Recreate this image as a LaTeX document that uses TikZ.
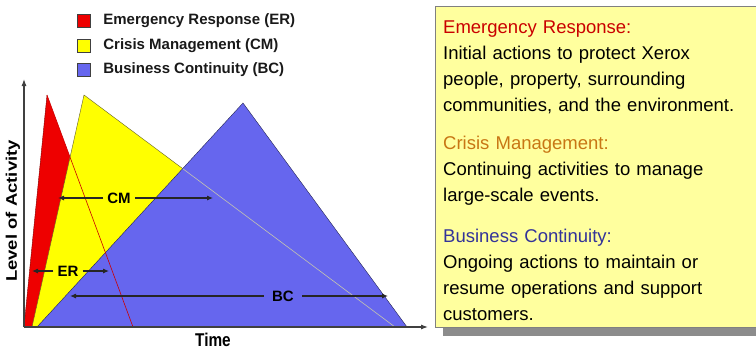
\documentclass[tikz,border=0pt]{standalone}
\usepackage{fontspec}
\setmainfont{Liberation Sans}
\usetikzlibrary{arrows.meta, positioning, shadows}

\definecolor{erred}{RGB}{238,0,0}
\definecolor{cmyellow}{RGB}{255,255,0}
\definecolor{bcblue}{RGB}{102,102,238}
\definecolor{panelfill}{RGB}{255,255,158}
\definecolor{cmbrown}{RGB}{200,118,20}
\definecolor{bcnavy}{RGB}{51,51,153}
\definecolor{edgegray}{RGB}{196,196,176}

\begin{document}
\begin{tikzpicture}[x=1pt, y=-1pt]

% GLOBAL SETTINGS
\newcommand{\axisy}{327}
\newcommand{\keyfont}{\bfseries\fontsize{15}{15}\selectfont}
\newcommand{\titlefont}{\bfseries\fontsize{18.5}{18.5}\selectfont}
\newcommand{\notefont}{\fontsize{18.5}{26}\selectfont}
\tikzset{
  key/.style={draw=black!75, minimum size=13pt, inner sep=0pt},
  keytext/.style={font=\keyfont, inner sep=0pt, text=black!90},
  span/.style={-{Latex[length=6pt, width=5pt]}, line width=1.1pt, black!85},
  spanlabel/.style={font=\keyfont, inner xsep=4pt, inner ysep=0pt},
  axis/.style={-{Latex[length=7pt, width=5pt]}, line width=1.1pt, black!75},
  panel/.style={draw=black!50, line width=1.2pt, fill=panelfill,
    drop shadow={shadow xshift=7pt, shadow yshift=-8pt, fill=black!45, opacity=1}},
}
\useasboundingbox (0,0) rectangle (756,351);

% LEGEND
\foreach \col/\lbl [count=\j] in {erred/Emergency Response (ER), cmyellow/Crisis Management (CM), bcblue/Business Continuity (BC)} {
  \node[key, fill=\col] (K\j) at (83.5, {21+24.5*(\j-1)}) {};
  \node[keytext, right=13pt of K\j] (L\j) {\lbl};
}

% TRIANGLES
\coordinate (rL) at (24,\axisy);
\coordinate (rT) at (47,95);
\coordinate (rR) at (133,\axisy);
\coordinate (yL) at (32,\axisy);
\coordinate (yT) at (84,95);
\coordinate (yR) at (395,\axisy);
\coordinate (bL) at (37,\axisy);
\coordinate (bT) at (243,103);
\coordinate (bR) at (407,\axisy);
\fill[erred] (rL) -- (rT) -- (rR) -- cycle;
\draw[erred!55!black] (rL) -- (rT);
\filldraw[fill=cmyellow, draw=olive!60!black] (yL) -- (yT) -- (yR) -- cycle;
\filldraw[fill=bcblue, draw=bcblue!35!black] (bL) -- (bT) -- (bR) -- cycle;
\coordinate (yb) at (intersection of yT--yR and bL--bT);
\draw[erred!85!black, semithick] (rT) -- (rR);
\draw[edgegray, semithick] (yb) -- (yR);

% AXES
\coordinate (O) at (24,\axisy);
\coordinate (ytip) at (24,79);
\coordinate (xtip) at (428,\axisy);
\draw[axis] (O) -- (ytip);
\draw[axis] (O) -- (xtip);

% SPANS
\node[spanlabel] (CM) at (119,198) {CM};
\coordinate (CM-left) at (58,198);
\coordinate (CM-right) at (213,198);
\node[spanlabel] (ER) at (68,271) {ER};
\coordinate (ER-left) at (32,271);
\coordinate (ER-right) at (109,271);
\node[spanlabel, inner xsep=8pt] (BC) at (283,296) {BC};
\coordinate (BC-left) at (70,296);
\coordinate (BC-right) at (388,296);
\foreach \s in {CM,ER,BC} {
  \draw[span] (\s) -- (\s-left);
  \draw[span] (\s) -- (\s-right);
}

% AXIS TITLES
\node[font=\titlefont, rotate=90, yscale=0.83] (level) at (13,211) {Level of Activity};
\node[font=\titlefont, xscale=0.83] (time) at (213,340) {Time};

% NOTES
\node[panel, anchor=north west, minimum width=340pt, minimum height=321pt] (panel) at (435,6) {};
\node[font=\notefont, text width=310pt, align=left, inner sep=0pt, text=black,
  below right=15pt and 8pt of panel.north west] (notes) {%
  \textcolor{erred!85!black}{Emergency Response:}\\
  Initial actions to protect Xerox\\
  people, property, surrounding\\
  communities, and the environment.\\[12pt]
  \textcolor{cmbrown}{Crisis Management:}\\
  Continuing activities to manage\\
  large-scale events.\\[15pt]
  \textcolor{bcnavy}{Business Continuity:}\\
  Ongoing actions to maintain or\\
  resume operations and support\\
  customers.};

\end{tikzpicture}
\end{document}
